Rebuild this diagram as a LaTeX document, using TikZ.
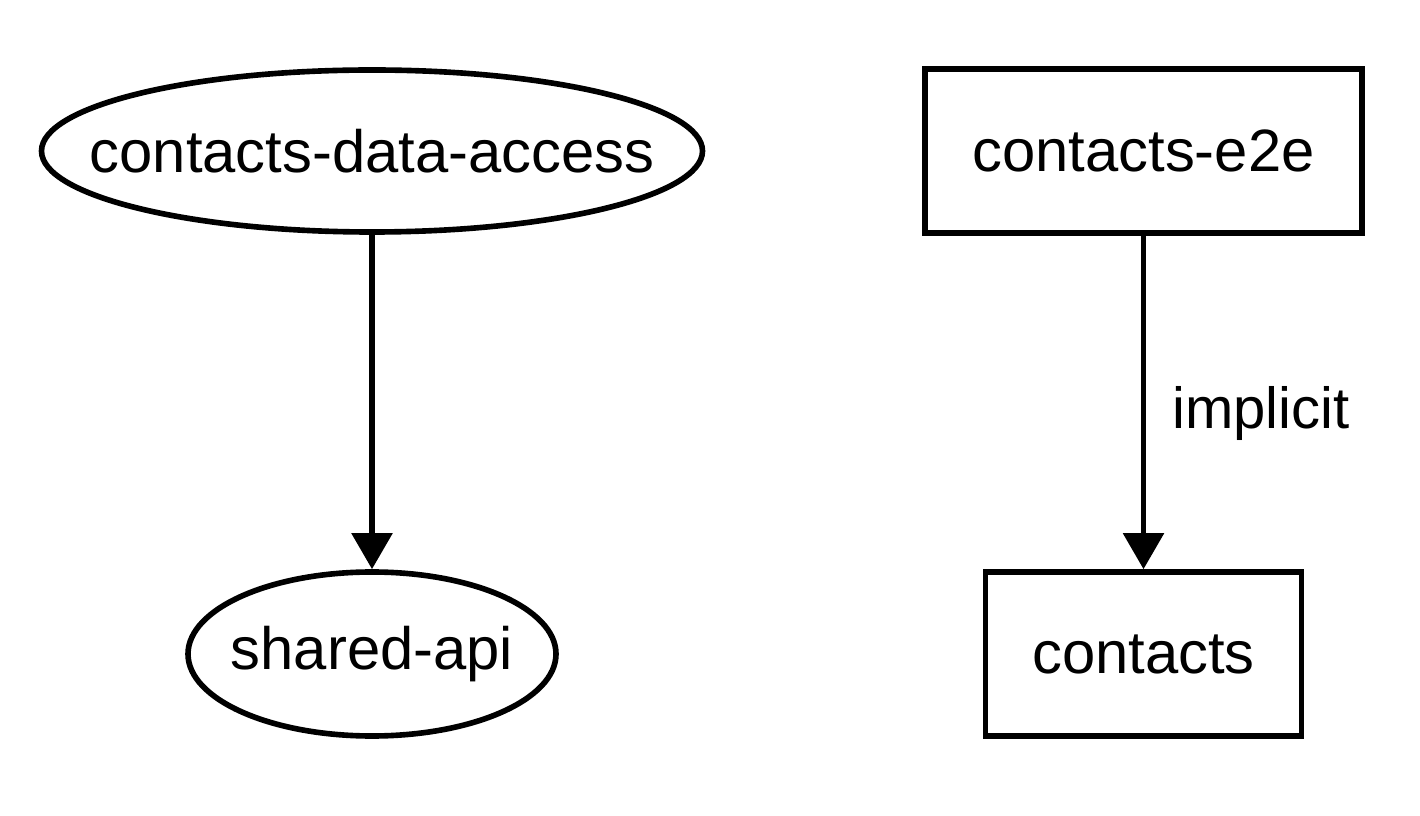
\documentclass[tikz,border=0pt]{standalone}
\usepackage{fontspec}
\setmainfont{Liberation Sans}
\usetikzlibrary{shapes.geometric,arrows.meta}

\begin{document}
\begin{tikzpicture}[
	proj/.style={draw,line width=3.2pt,inner sep=0pt,font=\fontsize{34}{38}\selectfont},
	oval/.style={proj,ellipse,inner xsep=-1cm},
	box/.style={proj,rectangle},
	dep/.style={line width=3.2pt,-{Triangle[length=0.72cm,width=0.8cm]}}]
								\useasboundingbox (0,0) rectangle (28.4,-16.32);
								\node [oval,minimum width=13.22cm,minimum height=3.24cm] (dataaccess) at (7.44,-3.02) {contacts-data-access};
								\node [oval,minimum width=7.36cm,minimum height=3.28cm] (sharedapi) at (7.44,-13.08) {shared-api};
								\node [box,minimum width=8.74cm,minimum height=3.28cm] (e2e) at (22.87,-3.02) {contacts-e2e};
								\node [box,minimum width=6.32cm,minimum height=3.28cm] (contacts) at (22.87,-13.08) {contacts};
								\draw[dep](dataaccess)--(sharedapi);
								\draw[dep](e2e)--(contacts) node [midway,right=0.4cm,yshift=-0.22cm,font=\fontsize{33}{36}\selectfont]{implicit};
							\end{tikzpicture}
\end{document}
